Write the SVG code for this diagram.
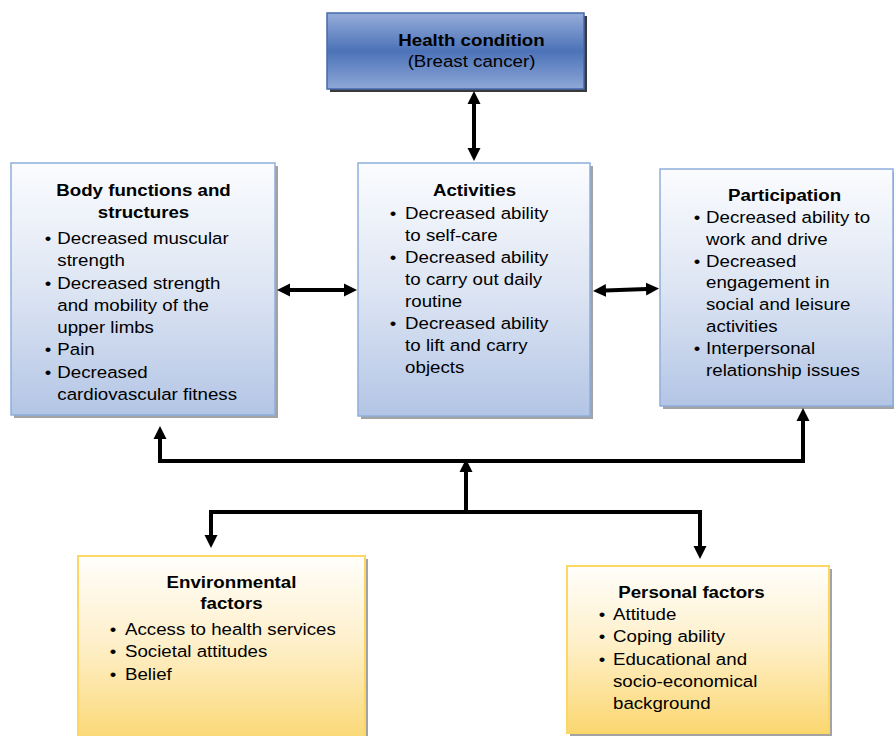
<svg xmlns="http://www.w3.org/2000/svg" width="894" height="736" viewBox="0 0 894 736">
<style>
.t{font-family:"Liberation Sans",Arial,sans-serif;font-size:17px;fill:#000}
.b{font-weight:bold}
.m{text-anchor:middle}
.blue{fill:url(#gBlue);stroke:#8eaedb;stroke-width:1.5}
.yel{fill:url(#gYel);stroke:#fbd766;stroke-width:2}
.sh{fill:#a3a3a3}
.c{fill:none;stroke:#000;stroke-width:4;stroke-linejoin:miter}
</style>
<defs>
<linearGradient id="gBlue" x1="0" y1="0" x2="0" y2="1">
<stop offset="0" stop-color="#fbfcfe"/>
<stop offset="0.5" stop-color="#dde5f3"/>
<stop offset="1" stop-color="#b3c5e5"/>
</linearGradient>
<linearGradient id="gYel" x1="0" y1="0" x2="0" y2="1">
<stop offset="0" stop-color="#fffefb"/>
<stop offset="0.45" stop-color="#fef0cb"/>
<stop offset="1" stop-color="#fbd771"/>
</linearGradient>
<linearGradient id="gHead" x1="0" y1="0" x2="0" y2="1">
<stop offset="0" stop-color="#96add9"/>
<stop offset="0.5" stop-color="#4c72b8"/>
<stop offset="1" stop-color="#8ea8d7"/>
</linearGradient>
<marker id="ah" viewBox="0 -7 13 14" refX="1" refY="0" markerWidth="13" markerHeight="14" markerUnits="userSpaceOnUse" orient="auto-start-reverse">
<path d="M0,-6.5 L13,0 L0,6.5 z" fill="#000"/>
</marker>
</defs>
<rect width="894" height="736" fill="#fff"/>

<g id="health">
<rect x="330" y="16" width="257" height="76" fill="#3a3a3a"/>
<rect x="327" y="13" width="257" height="76" fill="url(#gHead)" stroke="#4469ad" stroke-width="1.5"/>
<g transform="translate(471.5 0) scale(1.1 1)">
<text class="t b m" x="0" y="46">Health condition</text>
<text class="t m" x="0" y="67">(Breast cancer)</text>
</g>
</g>

<g id="body">
<rect class="sh" x="14" y="166" width="264" height="252"/>
<rect class="blue" x="11" y="163" width="264" height="252"/>
<g transform="translate(143.5 0) scale(1.1 1)">
<text class="t b m" x="0" y="196">Body functions and</text>
<text class="t b m" x="0" y="218">structures</text>
</g>
<g transform="translate(48 0) scale(1.1 1)">
<text class="t m" x="0" y="244">•</text>
<text class="t m" x="0" y="288.6">•</text>
<text class="t m" x="0" y="355.5">•</text>
<text class="t m" x="0" y="377.8">•</text>
<text class="t" x="8.5" y="244">Decreased muscular</text>
<text class="t" x="8.5" y="266.3">strength</text>
<text class="t" x="8.5" y="288.6">Decreased strength</text>
<text class="t" x="8.5" y="310.9">and mobility of the</text>
<text class="t" x="8.5" y="333.2">upper limbs</text>
<text class="t" x="8.5" y="355.5">Pain</text>
<text class="t" x="8.5" y="377.8">Decreased</text>
<text class="t" x="8.5" y="400.1">cardiovascular fitness</text>
</g>
</g>

<g id="activities">
<rect class="sh" x="361" y="166" width="232" height="253"/>
<rect class="blue" x="358" y="163" width="232" height="253"/>
<g transform="translate(474.5 0) scale(1.1 1)">
<text class="t b m" x="0" y="196">Activities</text>
</g>
<g transform="translate(393 0) scale(1.1 1)">
<text class="t m" x="0" y="219.5">•</text>
<text class="t m" x="0" y="263.5">•</text>
<text class="t m" x="0" y="329.5">•</text>
<text class="t" x="11" y="219.5">Decreased ability</text>
<text class="t" x="11" y="241.5">to self-care</text>
<text class="t" x="11" y="263.5">Decreased ability</text>
<text class="t" x="11" y="285.5">to carry out daily</text>
<text class="t" x="11" y="307.5">routine</text>
<text class="t" x="11" y="329.5">Decreased ability</text>
<text class="t" x="11" y="351.5">to lift and carry</text>
<text class="t" x="11" y="373.5">objects</text>
</g>
</g>

<g id="participation">
<rect class="sh" x="663" y="172" width="233" height="237"/>
<rect class="blue" x="660" y="169" width="233" height="237"/>
<g transform="translate(784.5 0) scale(1.1 1)">
<text class="t b m" x="0" y="201">Participation</text>
</g>
<g transform="translate(697 0) scale(1.1 1)">
<text class="t m" x="0" y="223">•</text>
<text class="t m" x="0" y="267">•</text>
<text class="t m" x="0" y="354">•</text>
<text class="t" x="8.2" y="223">Decreased ability to</text>
<text class="t" x="8.2" y="245">work and drive</text>
<text class="t" x="8.2" y="267">Decreased</text>
<text class="t" x="8.2" y="288.5">engagement in</text>
<text class="t" x="8.2" y="310">social and leisure</text>
<text class="t" x="8.2" y="332">activities</text>
<text class="t" x="8.2" y="354">Interpersonal</text>
<text class="t" x="8.2" y="376">relationship issues</text>
</g>
</g>

<g id="environmental">
<rect class="sh" x="81" y="559" width="287" height="190"/>
<rect class="yel" x="78" y="556" width="287" height="190"/>
<g transform="translate(231.5 0) scale(1.1 1)">
<text class="t b m" x="0" y="588.5">Environmental</text>
<text class="t b m" x="0" y="609.5">factors</text>
</g>
<g transform="translate(113 0) scale(1.1 1)">
<text class="t m" x="0" y="635">•</text>
<text class="t m" x="0" y="657.5">•</text>
<text class="t m" x="0" y="680">•</text>
<text class="t" x="10.9" y="635">Access to health services</text>
<text class="t" x="10.9" y="657.5">Societal attitudes</text>
<text class="t" x="10.9" y="680">Belief</text>
</g>
</g>

<g id="personal">
<rect class="sh" x="570" y="569" width="262" height="167"/>
<rect class="yel" x="567" y="566" width="262" height="167"/>
<g transform="translate(691.5 0) scale(1.1 1)">
<text class="t b m" x="0" y="598">Personal factors</text>
</g>
<g transform="translate(602 0) scale(1.1 1)">
<text class="t m" x="0" y="620">•</text>
<text class="t m" x="0" y="642">•</text>
<text class="t m" x="0" y="664.5">•</text>
<text class="t" x="10" y="620">Attitude</text>
<text class="t" x="10" y="642">Coping ability</text>
<text class="t" x="10" y="664.5">Educational and</text>
<text class="t" x="10" y="687">socio-economical</text>
<text class="t" x="10" y="709">background</text>
</g>
</g>

<g id="connectors">
<path class="c" d="M474,103 V149" marker-start="url(#ah)" marker-end="url(#ah)"/>
<path class="c" d="M289,290 H345" marker-start="url(#ah)" marker-end="url(#ah)"/>
<path class="c" d="M605,290.5 L647,289" marker-start="url(#ah)" marker-end="url(#ah)"/>
<path class="c" d="M160,438 V461 H803 V420" marker-start="url(#ah)" marker-end="url(#ah)"/>
<path class="c" d="M466,512 V471" marker-end="url(#ah)"/>
<path class="c" d="M211,536 V512 H700 V547" marker-start="url(#ah)" marker-end="url(#ah)"/>
</g>
</svg>
